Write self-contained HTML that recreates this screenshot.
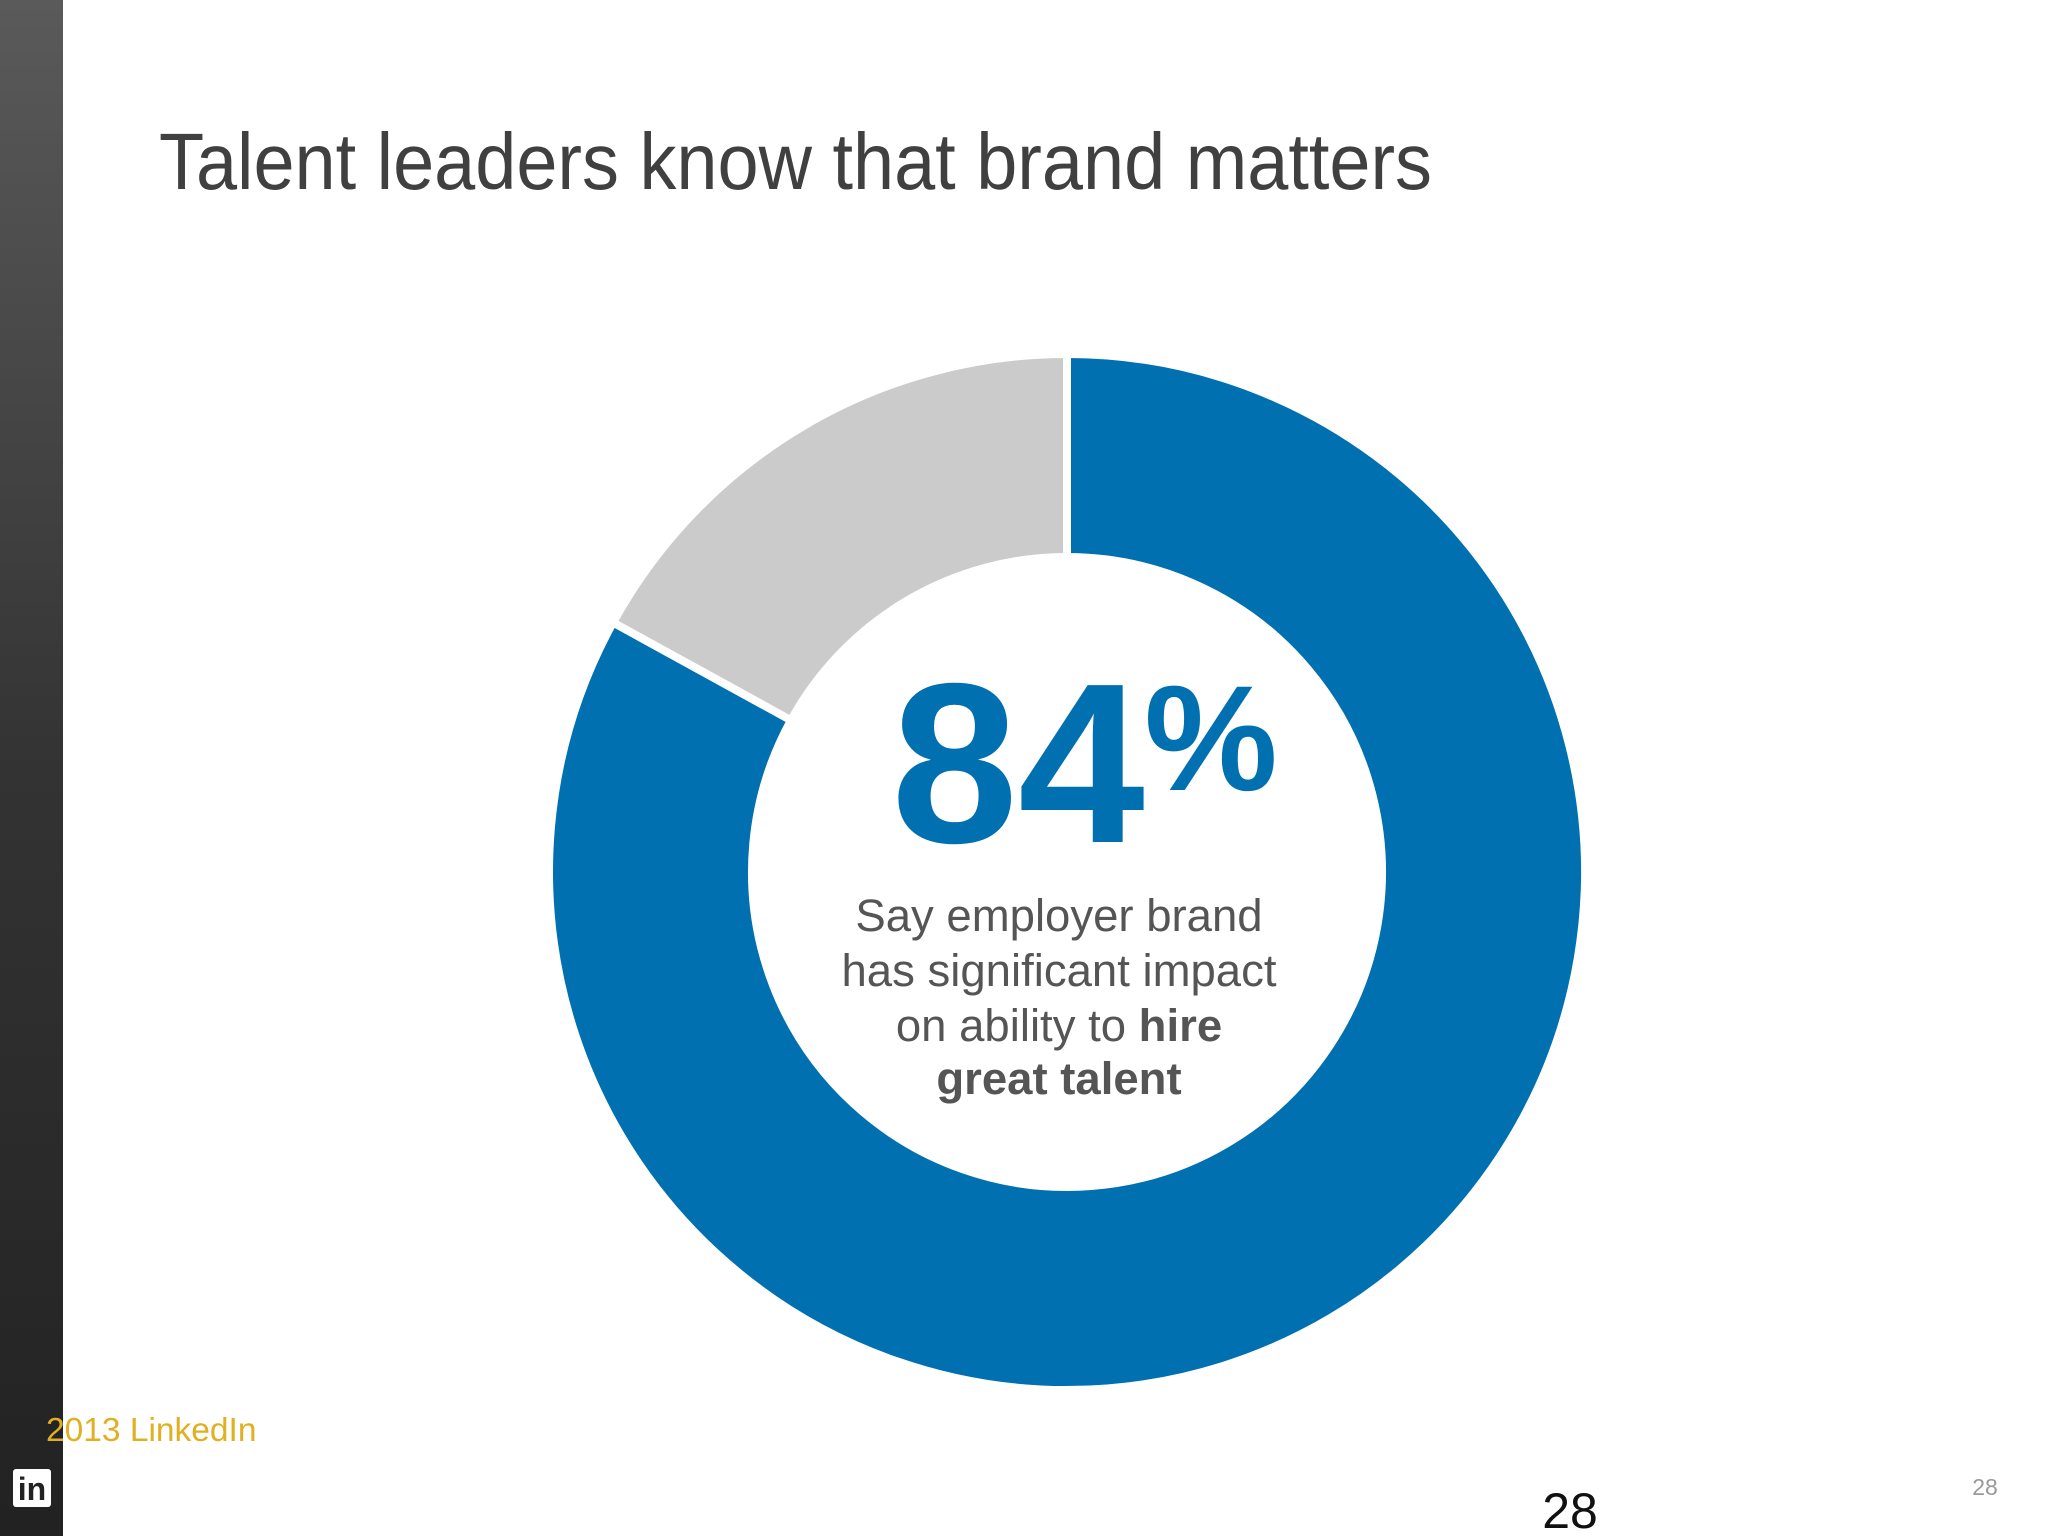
<!DOCTYPE html>
<html><head><meta charset="utf-8"><style>
html,body{margin:0;padding:0;background:#fff;}
svg{display:block;font-family:"Liberation Sans",sans-serif;}
</style></head><body>
<svg id="c" width="2048" height="1536" viewBox="0 0 2048 1536">
<defs><linearGradient id="sb" x1="0" y1="0" x2="0" y2="1"><stop offset="0" stop-color="#5a5a5a"/><stop offset="0.5" stop-color="#333"/><stop offset="1" stop-color="#222"/></linearGradient></defs>
<rect x="0" y="0" width="63" height="1536" fill="url(#sb)"/>
<text x="159" y="189" font-size="80" fill="#404040" textLength="1273" lengthAdjust="spacingAndGlyphs">Talent leaders know that brand matters</text>
<g id="donut"></g>
<g>
<text x="1018" y="842" font-size="228" font-weight="bold" fill="#0070b0" text-anchor="middle">84</text>
<text x="1211" y="790" font-size="150" font-weight="bold" fill="#0070b0" text-anchor="middle">%</text>
<g font-size="45.5" fill="#555" text-anchor="middle">
<text x="1059" y="931">Say employer brand</text>
<text x="1059" y="986">has significant impact</text>
<text x="1059" y="1041">on ability to <tspan font-weight="bold">hire</tspan></text>
<text x="1059" y="1094" font-weight="bold">great talent</text>
</g></g>
<text x="46" y="1441" font-size="33.5" fill="#e0b020">2013 LinkedIn</text>
<g>
<rect x="13" y="1469" width="38" height="38" rx="3" fill="#fff"/>
<text x="32" y="1500" font-size="32" font-weight="bold" fill="#222" text-anchor="middle">in</text>
</g>
<text x="1570" y="1528" font-size="50" fill="#111" text-anchor="middle">28</text>
<text x="1985" y="1495" font-size="23" fill="#999" text-anchor="middle">28</text>
</svg>
<script>
const categories = ["Significant impact", "Other"];
const values = [83, 17];
const colors = ["#0070b0", "#cbcbcb"];
const cx = 1067, cy = 872, R = 518, r = 315;
const g = document.getElementById('donut');
const total = values.reduce((a, b) => a + b, 0);
function pt(rad, frac) { const a = frac * 2 * Math.PI - Math.PI / 2; return [cx + rad * Math.cos(a), cy + rad * Math.sin(a)]; }
let acc = 0;
values.forEach((v, i) => {
  const f0 = acc / total, f1 = (acc + v) / total; acc += v;
  const large = (f1 - f0) > 0.5 ? 1 : 0;
  const [x0, y0] = pt(R, f0), [x1, y1] = pt(R, f1), [x2, y2] = pt(r, f1), [x3, y3] = pt(r, f0);
  const p = document.createElementNS('http://www.w3.org/2000/svg', 'path');
  p.setAttribute('d', `M${x0},${y0} A${R},${R} 0 ${large} 1 ${x1},${y1} L${x2},${y2} A${r},${r} 0 ${large} 0 ${x3},${y3} Z`);
  p.setAttribute('fill', colors[i]);
  p.setAttribute('stroke', '#fff');
  p.setAttribute('stroke-width', '8');
  
  
  g.appendChild(p);
});
</script>
</body></html>
